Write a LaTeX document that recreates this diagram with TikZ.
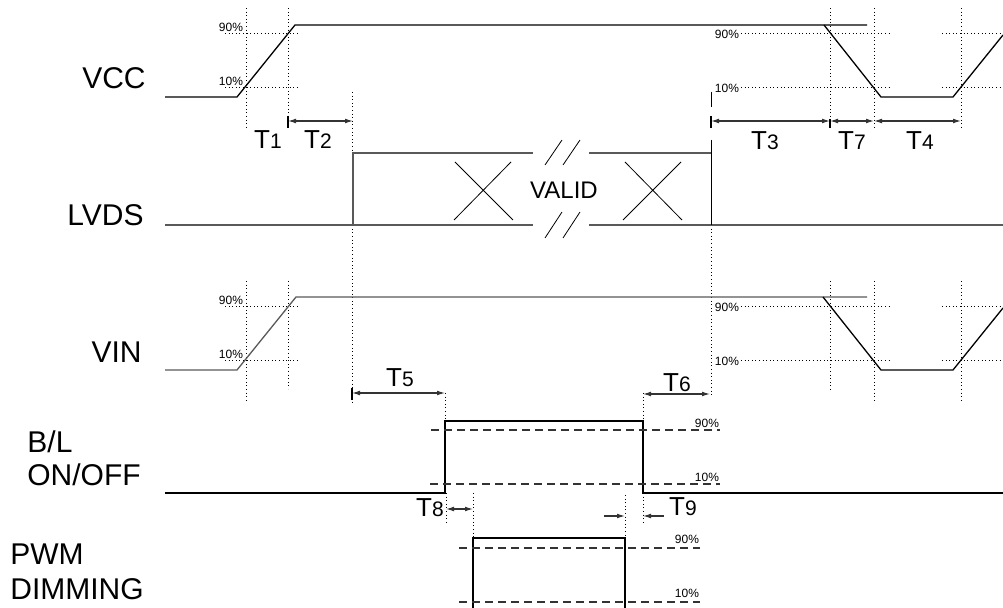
\documentclass[tikz,border=0pt]{standalone}
\usepackage{fontspec}
\setmainfont{Liberation Sans}
\usetikzlibrary{arrows.meta}

\newcommand{\tlabel}[1]{T{\fontsize{10.5}{12}\selectfont #1}}

\tikzset{
  wave/.style={line width=0.65pt},
  wavegray/.style={line width=0.65pt, black!65},
  guide/.style={line width=0.5pt, dash pattern=on 0.5pt off 1.3pt},
  level/.style={line width=0.55pt, dash pattern=on 4pt off 2.5pt, black!80},
  dim/.style={line width=0.55pt, black!80, {Latex[length=4pt,width=2.4pt]}-{Latex[length=4pt,width=2.4pt]}},
  onedim/.style={line width=0.55pt, black!80, -{Latex[length=4pt,width=2.4pt]}},
  tickmark/.style={line width=0.55pt},
  pct/.style={font=\fontsize{6}{7}\selectfont, inner sep=0.3pt},
  tname/.style={font=\fontsize{13}{15}\selectfont, inner sep=0pt},
  signame/.style={font=\fontsize{15}{16.5}\selectfont, inner sep=0pt, align=left}
}

\begin{document}
\begin{tikzpicture}[x=0.5pt,y=-0.5pt]
  \useasboundingbox (0,0) rectangle (1003,608);

  % Signal names
  \node[signame, anchor=east] (vcc) at (146,78) {VCC};
  \node[signame, anchor=east] (lvds) at (144,215) {LVDS};
  \node[signame, anchor=east] (vin) at (142,352) {VIN};
  \node[signame, anchor=west] (blon) at (27,458) {B/L\\ON/OFF};
  \node[signame, anchor=west, font=\fontsize{15}{17.5}\selectfont] (pwm) at (10,572) {PWM\\DIMMING};

  % Dotted guides and levels for VCC and VIN (same shape, shifted down)
  \foreach \dy/\nm in {0/vcc,273/vin} {
    \draw[guide] (246,{8+\dy}) -- (246,{129+\dy});
    \draw[guide] (288,{8+\dy}) -- (288,{116+\dy});
    \draw[guide] (225,{34+\dy}) -- (298,{34+\dy});
    \draw[guide] (225,{88+\dy}) -- (298,{88+\dy});
    \draw[guide] (830,{8+\dy}) -- (830,{119+\dy});
    \draw[guide] (874,{8+\dy}) -- (874,{130+\dy});
    \draw[guide] (961,{8+\dy}) -- (961,{128+\dy});
    \draw[guide] (741,{34+\dy}) -- (889,{34+\dy}) (942,{34+\dy}) -- (1003,{34+\dy});
    \draw[guide] (741,{88+\dy}) -- (889,{88+\dy}) (942,{88+\dy}) -- (1003,{88+\dy});
    \node[pct, anchor=east] (\nm-hl) at (244,{27+\dy}) {90\%};
    \node[pct, anchor=east] (\nm-ll) at (244,{81+\dy}) {10\%};
    \node[pct, anchor=east] (\nm-hr) at (740,{34+\dy}) {90\%};
    \node[pct, anchor=east] (\nm-lr) at (740,{88+\dy}) {10\%};
  }

  % Long guides between the rows
  \draw[guide] (352,92) -- (352,402);
  \draw[guide] (711,225) -- (711,397);
  \draw[guide] (445,393) -- (445,421);
  \draw[guide] (643,393) -- (643,421);
  \draw[guide] (446,493) -- (446,523);
  \draw[guide] (643,493) -- (643,523);
  \draw[guide] (473,493) -- (473,538);
  \draw[guide] (625,495) -- (625,538);

  % VCC
  \draw[wave] (165,97) -- (237,97) -- (295,25) -- (867,25);
  \draw[wave] (824,25) -- (881,97) -- (953,97) -- (1003,35);

  % LVDS
  \draw[wavegray] (165,225) -- (533,225) (589,225) -- (1003,225);
  \draw[wavegray] (353,225) -- (353,153) -- (533,153) (589,153) -- (711,153);
  \draw[line width=0.5pt] (711,140) -- (711,225);
  \draw[line width=0.5pt] (711,92) -- (711,107);
  \draw[line width=0.4pt] (455,162) -- (513,220) (511,162) -- (454,220);
  \draw[line width=0.4pt] (625,162) -- (682,220) (681,162) -- (623,220);
  \draw[line width=0.4pt] (545,165) -- (562,140) (563,165) -- (580,140);
  \draw[line width=0.4pt] (545,238) -- (562,212) (563,238) -- (580,212);
  \node[font=\fontsize{12}{14}\selectfont, inner sep=0pt] (valid) at (564,190) {VALID};

  % VIN
  \draw[wavegray] (165,370) -- (237,370) -- (296,297) -- (867,297);
  \draw[wave] (823,297) -- (881,370) -- (953,370) -- (1003,308);

  % B/L ON/OFF
  \draw[wave] (165,493) -- (445,493) -- (445,421) -- (643,421) -- (643,493) -- (1003,493);
  \draw[level] (431,430) -- (720,430);
  \draw[level] (430,484) -- (720,484);
  \node[pct, anchor=east] (bl-h) at (720,423) {90\%};
  \node[pct, anchor=east] (bl-l) at (720,477) {10\%};

  % PWM DIMMING
  \draw[wave] (473,608) -- (473,538) -- (625,538) -- (625,608);
  \draw[level] (459,548) -- (700,548);
  \draw[level] (459,602) -- (700,602);
  \node[pct, anchor=east] (pwm-h) at (700,539) {90\%};
  \node[pct, anchor=east] (pwm-l) at (700,593) {10\%};

  % Timing marks
  \draw[tickmark] (288,116) -- (288,128);
  \draw[tickmark] (711,116) -- (711,128);
  \draw[tickmark] (830,119) -- (830,128);
  \draw[tickmark] (352,388) -- (352,400);
  \draw[dim] (288,121) -- (353,121);
  \draw[dim] (711,121) -- (830,121);
  \draw[dim] (830,121) -- (874,121);
  \draw[dim] (874,121) -- (961,121);
  \draw[dim] (352,393) -- (445,393);
  \draw[dim] (643,394) -- (710,394);
  \draw[dim] (446,509) -- (473,509);
  \draw[onedim] (604,516) -- (625,516);
  \draw[onedim] (664,516) -- (643,516);

  % Timing labels
  \node[tname] (t1) at (268,140) {\tlabel{1}};
  \node[tname] (t2) at (318,140) {\tlabel{2}};
  \node[tname] (t3) at (765,141) {\tlabel{3}};
  \node[tname] (t7) at (852,141) {\tlabel{7}};
  \node[tname] (t4) at (920,141) {\tlabel{4}};
  \node[tname] (t5) at (400,378) {\tlabel{5}};
  \node[tname] (t6) at (677,383) {\tlabel{6}};
  \node[tname] (t8) at (430,508) {\tlabel{8}};
  \node[tname] (t9) at (683,507) {\tlabel{9}};
\end{tikzpicture}
\end{document}
